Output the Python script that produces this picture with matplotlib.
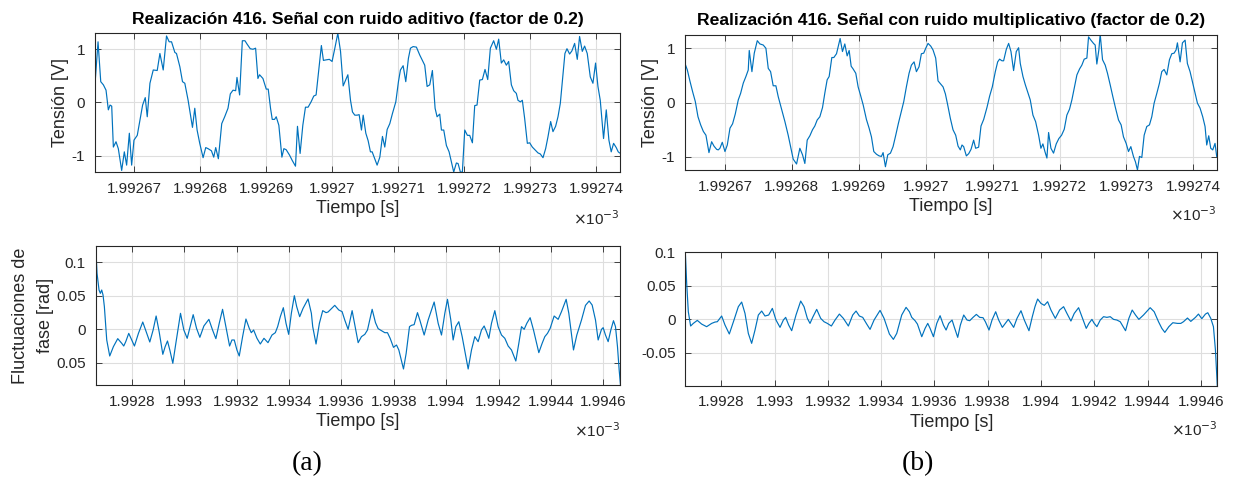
import numpy as np
import matplotlib
matplotlib.use("Agg")
import matplotlib.pyplot as plt
from matplotlib.ticker import MultipleLocator, FuncFormatter

plt.rcParams['font.family'] = ['Liberation Sans', 'DejaVu Sans']
plt.rcParams['axes.unicode_minus'] = False

# Tiempo de referencia (ms) y desplazamientos en ns
T0_MS = 1.99267

# --- Señal con ruido aditivo (zoom temporal) ---
ad_t = [-5.89, -5.44, -5.03, -4.63, -4.23, -3.88, -3.62, -3.37, -3.12, -2.72,
        -2.37, -1.86, -1.46, -1.11, -0.70, -0.35, 0.00, 0.50, 0.91, 1.31,
        1.71, 2.01, 2.42, 2.92, 3.52, 3.93, 4.43, 4.93, 5.33, 5.69,
        6.19, 6.44, 6.95, 7.35, 7.70, 8.20, 8.86, 9.21, 9.56, 9.96,
        10.47, 10.87, 11.22, 11.73, 12.08, 12.38, 12.78, 13.29, 13.74, 14.24,
        14.59, 15.00, 15.40, 15.60, 16.00, 16.41, 16.81, 17.11, 17.61, 18.02,
        18.42, 18.77, 19.02, 19.53, 20.03, 20.33, 20.68, 20.94, 21.29, 21.54,
        21.94, 22.40, 22.70, 23.05, 23.55, 23.96, 24.46, 24.76, 25.16, 25.57,
        25.97, 26.37, 26.82, 27.23, 27.58, 27.98, 28.38, 28.69, 29.09, 29.59,
        30.00,
        30.42, 30.87, 31.28, 31.68, 31.98, 32.39, 32.79, 33.09, 33.44, 33.80,
        34.10, 34.45, 34.71, 35.11, 35.46, 35.81, 36.07, 36.37, 36.82, 37.23,
        37.63, 37.98, 38.34, 38.74, 39.14, 39.65, 40.05, 40.35, 40.76, 41.16,
        41.56, 41.87, 42.27, 42.77, 43.28, 44.03, 44.39, 44.79, 45.19, 45.60,
        45.90, 46.30, 46.56, 46.91, 47.31, 47.72, 48.07, 48.42, 48.82, 49.08,
        49.43, 49.73, 50.09, 50.49, 50.84, 51.25, 51.60, 51.95, 52.36, 52.76,
        53.16, 53.57, 53.97, 54.47, 54.88, 55.23, 55.63, 55.99, 56.39, 56.74,
        57.15, 57.50, 57.90, 58.15, 58.51, 58.81, 59.16, 59.57, 59.92, 60.32,
        60.78, 61.18, 61.53, 61.94, 62.34, 62.69, 63.10, 63.45, 63.85, 64.21,
        64.56, 64.86, 65.26, 65.57, 65.97, 66.32, 66.73, 67.13, 67.48, 67.89,
        68.24, 68.64, 69.10, 69.50, 69.90, 70.26, 70.61, 71.11, 71.52, 71.92,
        72.27, 72.63, 73.03, 73.33, 73.53]
ad_v = [0.36, 1.14, 0.39, 0.33, 0.23, -0.14, -0.05, -0.07, -0.84, -0.74,
        -0.87, -1.28, -0.93, -1.18, -0.58, -1.18, -0.71, -0.62, -0.33, -0.05,
        0.09, -0.27, 0.36, 0.61, 0.60, 0.92, 0.61, 1.25, 1.14, 1.14,
        0.94, 0.92, 0.67, 0.39, 0.36, 0.04, -0.47, -0.11, -0.52, -0.77,
        -1.04, -0.85, -0.87, -0.91, -1.03, -0.85, -1.06, -0.40, -0.27, -0.11,
        0.16, 0.23, 0.22, 0.47, 0.14, 1.16, 1.16, 1.10, 1.01, 1.00,
        1.02, 0.45, 0.52, 0.45, 0.25, 0.25, -0.11, -0.32, -0.32, -0.27,
        -0.43, -1.03, -0.87, -0.89, -0.99, -1.09, -1.20, -0.45, -0.96, -0.43,
        -0.09, -0.09, 0.01, 0.12, 0.14, 0.61, 1.07, 0.79, 0.80, 0.81,
        0.77,
        1.02, 1.30, 0.96, 0.31, 0.40, 0.52, 0.04, -0.18, -0.24, -0.24,
        -0.23, -0.52, -0.24, -0.58, -0.72, -0.93, -0.93, -1.03, -1.18, -1.03,
        -0.64, -0.84, -0.51, -0.40, -0.21, 0.01, 0.39, 0.61, 0.69, 0.39,
        0.83, 1.02, 1.05, 1.04, 0.89, 0.70, 0.30, 0.33, 0.60, -0.11,
        -0.27, -0.22, -0.52, -0.52, -0.81, -0.93, -1.12, -1.31, -1.14, -1.15,
        -1.31, -1.31, -0.52, -0.62, -0.62, -0.76, -0.06, -0.05, 0.42, 0.43,
        0.62, 0.43, 1.02, 1.16, 1.00, 1.19, 0.74, 0.80, 0.70, 0.77,
        0.33, 0.22, 0.17, 0.04, 0.01, 0.04, -0.30, -0.77, -0.76, -0.84,
        -0.90, -0.95, -0.97, -1.04, -0.87, -0.65, -0.36, -0.55, -0.45, -0.27,
        -0.02, 0.39, 0.92, 1.01, 0.91, 0.97, 1.11, 0.81, 1.24, 0.96,
        1.06, 0.92, 0.48, 0.36, 0.74, 0.30, 0.04, -0.68, -0.14, -0.71,
        -0.93, -0.77, -0.85, -0.93, -0.95]

# --- Señal con ruido multiplicativo (zoom temporal) ---
mu_t = [-5.97, -5.62, -5.22, -4.83, -4.43, -4.03, -3.63, -3.23, -2.84, -2.39,
        -1.99, -1.64, -1.24, -1.00, -0.75, -0.40, 0.00, 0.35, 0.75, 1.14,
        1.54, 1.99, 2.34, 2.74, 3.13, 3.48, 3.63, 4.03, 4.38, 4.83,
        5.22, 5.72, 6.12, 6.47, 6.82, 7.21, 7.61, 7.96, 8.46, 8.96,
        9.45, 9.80, 10.20, 10.70, 11.19, 11.59, 11.94, 12.29, 12.69, 13.08,
        13.43, 13.78, 14.18, 14.58, 14.93, 15.27, 15.57, 15.97, 16.27, 16.67,
        16.92, 17.21, 17.56, 17.91, 18.26, 18.56, 18.86, 19.15, 19.55, 19.90,
        20.25, 20.65, 21.14, 21.54, 21.89, 22.24, 22.64, 23.03, 23.38, 23.63,
        23.98, 24.33, 24.73, 25.12, 25.52, 25.92, 26.32, 26.72, 27.11, 27.51,
        27.86, 28.26, 28.61, 29.00, 29.35, 29.70, 30.00, 30.35, 30.75, 31.09,
        31.49, 31.84,
        32.59, 32.94, 33.28, 33.68, 34.08, 34.48, 34.83, 35.17, 35.42, 35.67,
        36.07, 36.42, 36.77, 37.16, 37.46, 37.91, 38.26, 38.66, 39.15, 39.55,
        39.95, 40.40, 40.75, 41.04, 41.39, 41.64, 42.04, 42.39, 42.74, 43.13,
        43.53, 43.88, 44.13, 44.53, 44.88, 45.22, 45.62, 46.02, 46.42, 46.87,
        47.21, 47.51, 47.81, 48.11, 48.36, 48.71, 49.10, 49.50, 49.90, 50.30,
        50.70, 51.09, 51.49, 51.84, 52.19, 52.59, 52.99, 53.33, 53.68, 54.08,
        54.33, 54.68, 55.07, 55.32, 55.57, 55.87, 56.07, 56.42, 56.82, 57.16,
        57.56, 57.96, 58.36, 58.81, 59.20, 59.55, 59.95, 60.30, 60.65, 61.04,
        61.34, 61.64, 61.94, 62.29, 62.64, 63.03, 63.43, 63.78, 64.13, 64.53,
        64.93, 65.27, 65.62, 66.02, 66.42, 66.77, 67.11, 67.41, 67.61, 68.01,
        68.36, 68.76, 69.10, 69.50, 69.90, 70.25, 70.60, 70.99, 71.39, 71.74,
        71.99, 72.29, 72.59, 72.89, 73.23, 73.48]
mu_v = [0.72, 0.60, 0.39, 0.20, 0.02, -0.26, -0.41, -0.53, -0.60, -0.92,
        -0.72, -0.80, -0.86, -0.87, -0.84, -0.73, -0.90, -0.78, -0.47, -0.39,
        -0.21, 0.05, 0.17, 0.36, 0.48, 0.60, 0.96, 0.57, 0.91, 1.14,
        1.08, 1.06, 1.00, 0.63, 0.57, 0.31, 0.31, 0.11, -0.12, -0.35,
        -0.60, -0.81, -1.04, -1.13, -0.84, -0.96, -1.12, -0.69, -0.61, -0.50,
        -0.43, -0.32, -0.26, -0.09, 0.18, 0.42, 0.48, 0.83, 0.83, 0.90,
        1.03, 1.18, 0.94, 1.08, 0.86, 0.96, 0.67, 0.62, 0.54, 0.29,
        0.14, -0.04, -0.31, -0.47, -0.63, -0.90, -0.95, -0.98, -0.99, -0.92,
        -1.18, -0.96, -0.93, -0.81, -0.60, -0.38, -0.18, 0.02, 0.29, 0.54,
        0.69, 0.75, 0.57, 0.66, 0.90, 0.91, 1.00, 1.09, 1.04, 0.97,
        0.82, 0.40,
        0.29, 0.16, -0.04, -0.29, -0.50, -0.60, -0.80, -0.87, -0.78, -0.81,
        -0.98, -0.94, -0.86, -0.69, -0.84, -0.82, -0.43, -0.31, -0.09, 0.12,
        0.29, 0.57, 0.75, 0.80, 0.77, 0.77, 0.98, 1.09, 0.94, 0.59,
        0.94, 1.01, 0.72, 0.48, 0.33, 0.20, 0.05, -0.23, -0.35, -0.60,
        -0.84, -0.76, -0.90, -1.02, -0.55, -0.84, -0.93, -0.76, -0.66, -0.60,
        -0.49, -0.23, -0.12, 0.05, 0.26, 0.51, 0.62, 0.69, 0.80, 0.82,
        1.21, 1.15, 1.09, 1.06, 0.71, 0.97, 1.26, 0.79, 0.69, 0.54,
        0.33, 0.11, -0.10, -0.32, -0.41, -0.63, -0.75, -0.90, -0.81, -0.99,
        -1.09, -1.24, -0.99, -1.01, -0.60, -0.44, -0.41, -0.26, -0.01, 0.17,
        0.36, 0.57, 0.61, 0.51, 0.79, 0.90, 0.91, 0.97, 1.10, 0.75,
        1.10, 1.15, 0.72, 0.57, 0.36, 0.17, -0.01, -0.10, -0.26, -0.44,
        -0.78, -0.61, -0.84, -0.87, -0.75, -0.99]

# --- Fluctuaciones de fase, ruido aditivo ---
fa_t = [-7.6, -2.5, 5.1, 10.2, 15.3, 20.4, 25.5, 34.5, 45.9, 59.9,
        76.5, 91.8, 99.4, 107.1, 118.5, 130.0, 140.2, 155.5, 172.0, 187.3,
        198.8, 211.5, 223.0, 234.5, 248.5, 257.4, 266.3, 275.2, 286.7, 298.2,
        316.0, 328.7, 341.5, 354.2, 364.4, 377.2, 389.9, 405.2, 424.3, 438.3,
        451.0, 463.8, 476.5, 489.3, 503.3, 512.2, 521.1, 531.3, 540.2, 553.0,
        565.7, 578.4, 586.1, 595.0, 607.8, 620.5, 634.5, 649.8, 665.1, 677.8,
        686.7, 696.9, 708.4, 718.6, 728.8, 739.0, 750.4, 759.4, 770.8, 783.6,
        802.7, 815.4, 820.5, 833.2, 846.0, 858.7, 871.5, 879.1, 904.6, 919.9,
        932.6, 942.8, 955.6, 970.9,
        981.2, 993.9, 1006.6, 1019.3, 1029.5, 1047.3, 1060.0, 1070.2, 1082.9, 1095.7,
        1105.8, 1116.0, 1128.7, 1140.2, 1149.1, 1166.9, 1177.1, 1189.8, 1197.4, 1207.6,
        1220.3, 1229.2, 1245.8, 1261.0, 1283.9, 1299.2, 1311.9, 1324.6, 1334.8, 1347.5,
        1356.4, 1366.6, 1378.0, 1390.8, 1413.7, 1426.4, 1439.1, 1451.8, 1464.5, 1474.7,
        1483.6, 1492.5, 1502.7, 1515.4, 1528.1, 1540.9, 1553.6, 1566.3, 1579.0, 1595.6,
        1607.0, 1617.2, 1627.4, 1637.5, 1650.2, 1663.0, 1683.3, 1696.0, 1706.2, 1716.4,
        1726.6, 1741.8, 1757.1, 1769.8, 1787.6, 1797.8, 1815.6, 1828.3, 1846.1, 1861.4,
        1875.4, 1886.8, 1899.6, 1909.7, 1922.5, 1928.8, 1937.7, 1947.9, 1958.1, 1968.2,
        1975.9, 1983.5, 1989.9, 1995.0]
fa_v = [0.1244, 0.0836, 0.0587, 0.0537, 0.0587, 0.0512, 0.0338, -0.0159, -0.0398, -0.0259,
        -0.0139, -0.0209, -0.0249, -0.0184, -0.0060, -0.0159, -0.0249, -0.0060, 0.0109, -0.0060,
        -0.0189, -0.0010, 0.0199, -0.0035, -0.0373, -0.0259, -0.0174, -0.0308, -0.0507, -0.0209,
        0.0239, -0.0010, -0.0134, 0.0065, 0.0219, 0.0015, -0.0119, 0.0050, 0.0149, -0.0010,
        -0.0139, 0.0090, 0.0299, 0.0040, -0.0249, -0.0159, -0.0159, -0.0308, -0.0398, -0.0109,
        0.0154, 0.0015, -0.0050, -0.0010, -0.0134, -0.0219, -0.0134, -0.0199, -0.0085, -0.0050,
        0.0040, 0.0189, 0.0323, 0.0090, -0.0075, 0.0239, 0.0502, 0.0338, 0.0189, 0.0313,
        0.0453, 0.0239, 0.0040, -0.0219, 0.0090, 0.0279, 0.0249, 0.0259, 0.0358, 0.0289,
        0.0264, 0.0139, 0.0000, 0.0279,
        0.0065, -0.0199, -0.0109, -0.0075, -0.0010, 0.0299, 0.0100, 0.0010, -0.0020, -0.0050,
        -0.0050, -0.0134, -0.0269, -0.0234, -0.0308, -0.0592, -0.0358, 0.0040, 0.0060, 0.0070,
        0.0249, 0.0139, -0.0085, 0.0139, 0.0408, 0.0090, -0.0085, 0.0239, 0.0448, 0.0139,
        -0.0159, 0.0040, 0.0114, -0.0109, -0.0592, -0.0308, -0.0109, -0.0184, -0.0010, 0.0050,
        -0.0035, -0.0134, 0.0090, 0.0279, 0.0040, -0.0085, -0.0134, -0.0249, -0.0308, -0.0473,
        -0.0209, 0.0040, 0.0000, 0.0090, 0.0174, -0.0010, -0.0348, -0.0209, -0.0109, -0.0060,
        0.0015, 0.0199, 0.0149, 0.0264, 0.0448, 0.0239, -0.0308, -0.0085, 0.0139, 0.0358,
        0.0423, 0.0363, 0.0139, -0.0159, 0.0000, 0.0025, -0.0085, -0.0184, -0.0010, 0.0129,
        0.0040, -0.0259, -0.0607, -0.0831]

# --- Fluctuaciones de fase, ruido multiplicativo ---
fm_t = [-5.2, 0.0, 6.1, 14.8, 24.8, 39.9, 56.1, 74.9, 93.7, 106.2,
        115.0, 131.3, 143.8, 160.0, 177.6, 193.9, 206.4, 218.9, 231.4, 243.9,
        256.5, 269.0, 281.5, 294.0, 307.8, 321.6, 335.3, 350.4, 362.9, 371.6,
        382.9, 394.2, 410.4, 428.0, 440.5, 453.0, 463.0, 473.0, 488.1, 503.1,
        515.6, 528.1, 543.2, 556.9, 573.2, 588.2, 607.0, 623.3, 635.8, 648.3,
        660.8, 675.9, 688.4, 703.4, 725.9, 741.0, 761.0, 776.0, 788.6, 807.3,
        823.6, 836.1, 844.9, 857.4, 866.2, 882.5, 895.0, 905.0, 913.8, 926.3,
        938.8, 951.3, 963.8, 973.8,
        983.8, 996.3, 1005.0, 1017.5, 1027.5, 1040.0, 1052.5, 1062.5, 1075.0, 1087.5,
        1100.0, 1112.5, 1121.3, 1135.0, 1146.3, 1160.0, 1171.3, 1185.0, 1196.3, 1207.5,
        1217.5, 1227.5, 1240.0, 1255.0, 1267.5, 1285.0, 1297.5, 1307.5, 1317.5, 1330.0,
        1342.5, 1355.0, 1367.5, 1383.8, 1400.0, 1415.0, 1427.5, 1442.5, 1455.0, 1471.3,
        1483.8, 1500.0, 1510.0, 1521.3, 1530.0, 1540.0, 1552.5, 1565.0, 1577.5, 1590.0,
        1602.5, 1615.0, 1627.5, 1647.5, 1660.0, 1672.5, 1685.0, 1697.5, 1715.0, 1740.0,
        1755.0, 1771.3, 1783.8, 1795.0, 1810.0, 1825.0, 1842.5, 1855.0, 1865.0, 1880.0,
        1892.5, 1910.0, 1921.3, 1933.8, 1947.5, 1956.3, 1967.5, 1977.5, 1985.0, 1992.0]
fm_v = [0.1008, 0.0536, 0.0114, -0.0099, -0.0060, -0.0015, -0.0070, -0.0109, -0.0060, -0.0040,
        -0.0035, 0.0050, -0.0084, -0.0218, -0.0010, 0.0189, 0.0258, 0.0089, -0.0209, -0.0357,
        -0.0159, 0.0065, 0.0124, 0.0050, 0.0065, 0.0164, -0.0010, -0.0119, -0.0010, 0.0030,
        -0.0084, -0.0169, 0.0065, 0.0273, 0.0189, 0.0015, -0.0060, 0.0030, 0.0149, 0.0015,
        -0.0035, -0.0060, -0.0099, -0.0010, 0.0079, 0.0015, -0.0099, 0.0065, 0.0124, 0.0050,
        0.0030, -0.0070, -0.0149, -0.0010, 0.0134, 0.0015, -0.0218, -0.0298, -0.0209, 0.0065,
        0.0179, 0.0114, 0.0030, -0.0020, -0.0070, -0.0258, -0.0134, -0.0060, -0.0134, -0.0258,
        -0.0060, 0.0055, -0.0084, -0.0159,
        -0.0060, -0.0010, -0.0119, -0.0268, -0.0084, 0.0065, -0.0010, -0.0020, 0.0030, 0.0074,
        0.0030, 0.0025, -0.0035, -0.0159, -0.0010, 0.0114, -0.0010, -0.0119, -0.0060, 0.0000,
        -0.0060, -0.0119, 0.0015, 0.0129, -0.0010, -0.0169, 0.0040, 0.0189, 0.0303, 0.0238,
        0.0209, 0.0263, 0.0139, 0.0015, 0.0139, 0.0189, 0.0089, -0.0025, 0.0089, 0.0174,
        0.0040, -0.0134, -0.0060, 0.0000, -0.0060, -0.0109, -0.0010, 0.0040, 0.0030, 0.0040,
        0.0000, -0.0010, -0.0035, -0.0169, 0.0015, 0.0139, 0.0065, 0.0000, 0.0065, 0.0174,
        0.0114, -0.0035, -0.0134, -0.0194, -0.0109, -0.0050, -0.0060, -0.0060, -0.0035, 0.0020,
        -0.0030, 0.0030, 0.0079, 0.0010, 0.0079, 0.0099, 0.0015, -0.0109, -0.0457, -0.0988]

LINE = '#0072BD'
DARK = '#262626'
GRID = '#dedede'
TICK_FS = 11
LABEL_FS = 13


def to_ms(t_ns):
    return T0_MS + np.asarray(t_ns) * 1e-6


def fmt_ms(x, pos):
    return ('%.5f' % x).rstrip('0').rstrip('.')


def fmt_g(y, pos):
    return '%g' % round(y, 6)


def style_axes(ax, step):
    ax.xaxis.set_major_locator(MultipleLocator(step))
    ax.xaxis.set_major_formatter(FuncFormatter(fmt_ms))
    ax.grid(True, color=GRID, linewidth=0.8)
    ax.set_axisbelow(True)
    ax.tick_params(direction='in', length=4, width=0.6, top=True, right=True,
                   colors=DARK, labelsize=TICK_FS, pad=7)
    for s in ax.spines.values():
        s.set_color(DARK)
        s.set_linewidth(0.8)
    ax.set_xlabel('Tiempo [s]', fontsize=LABEL_FS, color=DARK, labelpad=3)
    ax.text(1.0, -0.33, r'$\times$10$^{-3}$', transform=ax.transAxes,
            ha='right', va='center', fontsize=TICK_FS, color=DARK)


fig = plt.figure(figsize=(12.33, 4.79), dpi=100)
W, H = 1233.0, 479.0


def add_ax(l, r, top, bot):
    return fig.add_axes([l / W, 1 - bot / H, (r - l) / W, (bot - top) / H])


ax1 = add_ax(95, 620, 33.3, 172.3)
ax2 = add_ax(685, 1216.7, 34.7, 170)
ax3 = add_ax(95.7, 620.5, 246, 385)
ax4 = add_ax(685.3, 1217.3, 251.7, 385.7)

ax1.plot(to_ms(ad_t), ad_v, color=LINE, linewidth=0.85)
ax1.set_xlim(to_ms(-5.9), to_ms(73.6))
ax1.set_ylim(-1.315, 1.30)
ax1.set_yticks([-1, 0, 1])
style_axes(ax1, 1e-5)
ax1.set_ylabel('Tensión [V]', fontsize=LABEL_FS, color=DARK, labelpad=2)
ax1.set_title('Realización 416. Señal con ruido aditivo (factor de 0.2)',
              fontsize=12.6, fontweight='bold', pad=7)

ax2.plot(to_ms(mu_t), mu_v, color=LINE, linewidth=0.85)
ax2.set_xlim(to_ms(-5.97), to_ms(73.48))
ax2.set_ylim(-1.24, 1.25)
ax2.set_yticks([-1, 0, 1])
style_axes(ax2, 1e-5)
ax2.set_ylabel('Tensión [V]', fontsize=LABEL_FS, color=DARK, labelpad=2)
ax2.set_title('Realización 416. Señal con ruido multiplicativo (factor de 0.2)',
              fontsize=12.6, fontweight='bold', pad=7)

ax3.plot(to_ms(fa_t), fa_v, color=LINE, linewidth=0.85)
ax3.set_xlim(to_ms(-7.6), to_ms(1995.0))
ax3.set_ylim(-0.0831, 0.1244)
ax3.set_yticks([-0.05, 0, 0.05, 0.1])
ax3.set_yticklabels(['0.05', '0', '0.05', '0.1'])
style_axes(ax3, 2e-4)
ax3.set_ylabel('Fluctuaciones de\nfase [rad]', fontsize=LABEL_FS, color=DARK,
               labelpad=2, linespacing=1.55)

ax4.plot(to_ms(fm_t), fm_v, color=LINE, linewidth=0.85)
ax4.set_xlim(to_ms(-5.2), to_ms(1992.0))
ax4.set_ylim(-0.0988, 0.1008)
ax4.set_yticks([-0.05, 0, 0.05, 0.1])
ax4.yaxis.set_major_formatter(FuncFormatter(fmt_g))
style_axes(ax4, 2e-4)

# etiquetas de subfigura
fig.text(307 / W, 1 - 464 / H, '(a)', family='Liberation Serif', fontsize=20,
         ha='center', va='center')
fig.text(918 / W, 1 - 464 / H, '(b)', family='Liberation Serif', fontsize=20,
         ha='center', va='center')

fig.savefig('out.png', dpi=100)
